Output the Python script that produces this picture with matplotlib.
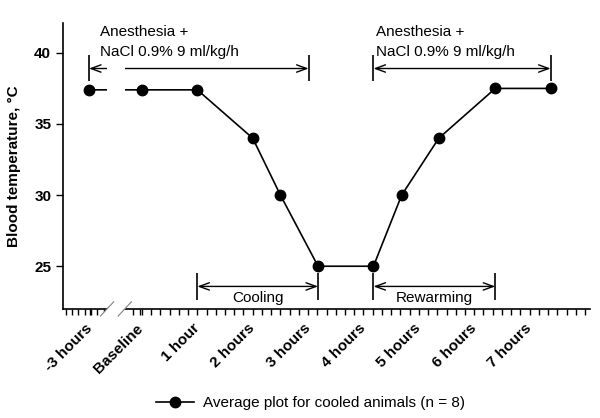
import matplotlib
matplotlib.use('Agg')
import numpy as np
import matplotlib.pyplot as plt
import matplotlib.transforms as mtransforms
from matplotlib.patches import Polygon

plt.rcParams['font.family'] = ['Liberation Sans', 'DejaVu Sans']

# ---- data (time in hours from baseline, blood temperature in deg C) ----
time_h = [-0.96, 0.0, 1.0, 2.0, 2.5, 3.18, 4.18, 4.69, 5.36, 6.38, 7.38]
temp_c = [37.4, 37.4, 37.4, 34.0, 30.0, 25.0, 25.0, 30.0, 34.0, 37.5, 37.5]

tick_pos = [-0.93, -0.03, 1, 2, 3, 4, 5, 6, 7]
tick_labels = ['-3 hours', 'Baseline', '1 hour', '2 hours', '3 hours',
               '4 hours', '5 hours', '6 hours', '7 hours']

# phase brackets (start, end) in hours
anest1 = (-0.957, 3.01)
anest2 = (4.18, 7.38)
cooling = (1.0, 3.18)
rewarming = (4.18, 6.38)
axis_break = (-0.63, -0.31)

FS = 11

fig = plt.figure(figsize=(6, 4.18), dpi=100)
ax = fig.add_axes([0.105, 0.261, 0.878, 0.684])

ax.plot(time_h, temp_c, color='black', lw=1.2, marker='o', ms=7.5,
        label='Average plot for cooled animals (n = 8)', zorder=3)

ax.set_xlim(-1.426, 8.087)
ax.set_ylim(22, 42.1)

# axes styling
for s in ['top', 'right']:
    ax.spines[s].set_visible(False)
ax.spines['left'].set_linewidth(1.2)
ax.spines['bottom'].set_linewidth(1.2)

ax.set_yticks([25, 30, 35, 40])
ax.tick_params(axis='y', direction='out', length=5, width=1, labelsize=FS)
for lab in ax.get_yticklabels():
    lab.set_fontweight('bold')

ax.set_xticks(tick_pos)
ax.set_xticklabels(tick_labels, rotation=45, ha='right', fontsize=FS, fontweight='bold')
minor = list(np.arange(-1.38, -0.6, 0.115)) + list(np.arange(-1, 49) / 6.0)
ax.set_xticks(minor, minor=True)
ax.tick_params(axis='x', which='both', direction='out', length=4, width=1, pad=5)
shift = mtransforms.ScaledTranslation(5 / 100, 0, fig.dpi_scale_trans)
for lab in ax.get_xticklabels():
    lab.set_transform(lab.get_transform() + shift)

# gap in the line / arrow at the axis break
ax.axvspan(axis_break[0], axis_break[1], color='white', zorder=4, lw=0)

# break marks on the x axis
trans = mtransforms.blended_transform_factory(ax.transData, ax.transAxes)
dx, dy = 0.12, 0.025
gap = Polygon([(axis_break[0] - dx, -dy), (axis_break[1] - dx, -dy),
               (axis_break[1] + dx, dy), (axis_break[0] + dx, dy)],
              closed=True, facecolor='white', edgecolor='none',
              transform=trans, clip_on=False, zorder=5)
ax.add_patch(gap)
for xb in axis_break:
    ax.plot([xb - dx, xb + dx], [-dy, dy], color='gray', lw=0.8,
            transform=trans, clip_on=False, zorder=6)

arrow_kw = dict(color='black', lw=1, shrinkA=0, shrinkB=0, mutation_scale=12)

def bracket(x0, x1, y, ylo, yhi, style='<->'):
    ax.annotate('', xy=(x1, y), xytext=(x0, y),
                arrowprops=dict(arrowstyle=style + ',head_length=0.6,head_width=0.22', **arrow_kw),
                zorder=3)
    ax.vlines([x0, x1], ylo, yhi, color='black', lw=1.2, zorder=3)

# anesthesia brackets
bracket(anest1[0], anest1[1], 38.9, 38.0, 39.85)
bracket(anest2[0], anest2[1], 38.9, 38.0, 39.85)
for x0 in (-0.76, 4.22):
    ax.text(x0, 41.45, 'Anesthesia +', fontsize=FS, va='center', zorder=7)
    ax.text(x0, 40.05, 'NaCl 0.9% 9 ml/kg/h', fontsize=FS, va='center', zorder=7)

# cooling / rewarming brackets
bracket(cooling[0], cooling[1], 23.58, 22.66, 24.5)
bracket(rewarming[0], rewarming[1], 23.58, 22.66, 24.5)
ax.text(np.mean(cooling), 22.8, 'Cooling', fontsize=FS, ha='center', va='center',
        bbox=dict(facecolor='white', edgecolor='none', pad=0.5), zorder=7)
ax.text(np.mean(rewarming), 22.8, 'Rewarming', fontsize=FS, ha='center', va='center',
        bbox=dict(facecolor='white', edgecolor='none', pad=0.5), zorder=7)

fig.text(0.023, 1 - 166 / 418, 'Blood temperature, \u00b0C', rotation=90,
         fontsize=FS, fontweight='bold', ha='center', va='center')

fig.legend(loc='center', bbox_to_anchor=(0.518, 0.036), frameon=False,
           fontsize=FS, handlelength=2.5, handletextpad=0.6)

fig.savefig('out.png', dpi=100)
